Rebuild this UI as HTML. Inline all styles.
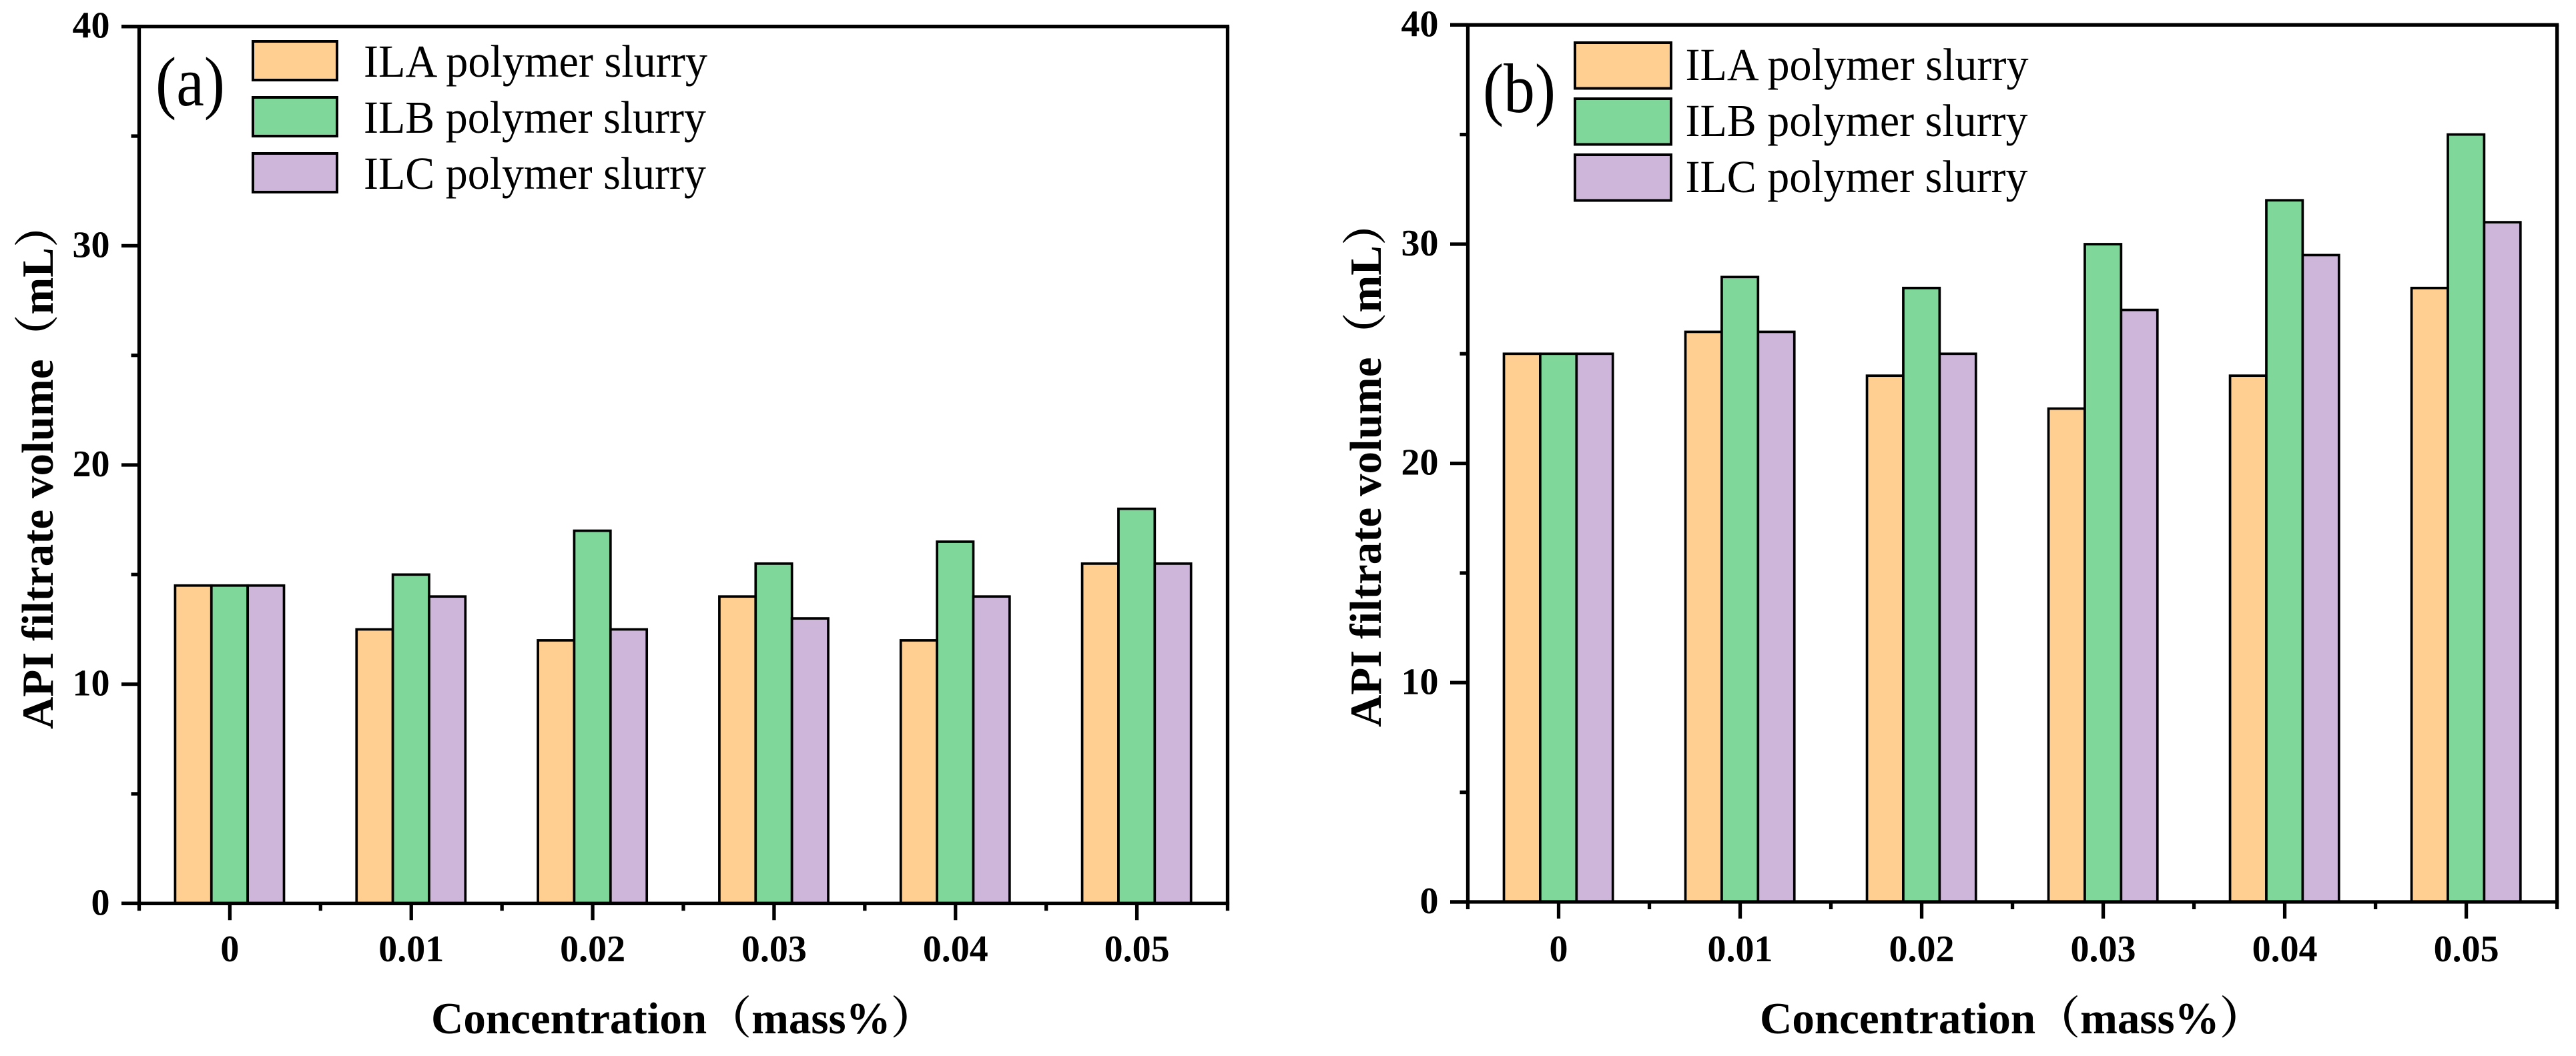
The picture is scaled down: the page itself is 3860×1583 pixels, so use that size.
<!DOCTYPE html>
<html lang="en">
<head>
<meta charset="utf-8">
<title>API filtrate volume charts</title>
<style>
html,body{margin:0;padding:0;background:#fff;}
svg{display:block;}
text{fill:#000;font-family:"Liberation Serif","Noto Serif CJK SC",serif;}
.tick{font-size:56px;font-weight:700;}
.title{font-size:67px;font-weight:700;}
.leg{font-size:69px;}
.panel{font-size:105px;}
</style>
</head>
<body>
<svg id="chart" xmlns="http://www.w3.org/2000/svg" width="3860" height="1583" viewBox="0 0 3860 1583">
  <rect x="0" y="0" width="3860" height="1583" fill="#ffffff"/>
  <g id="panel-a"></g>
  <g id="panel-b"></g>

  <g>
    <text class="panel" x="233" y="158" textLength="104" lengthAdjust="spacingAndGlyphs">(a)</text>
    <g>
      <rect x="379" y="62" width="126" height="58" fill="#fecf90" stroke="#000" stroke-width="4"/>
      <rect x="379" y="146" width="126" height="58" fill="#7fd89a" stroke="#000" stroke-width="4"/>
      <rect x="379" y="230" width="126" height="58" fill="#cdb6da" stroke="#000" stroke-width="4"/>
      <text class="leg" x="545" y="115" textLength="515" lengthAdjust="spacingAndGlyphs">ILA polymer slurry</text>
      <text class="leg" x="545" y="199" textLength="513" lengthAdjust="spacingAndGlyphs">ILB polymer slurry</text>
      <text class="leg" x="545" y="283" textLength="513" lengthAdjust="spacingAndGlyphs">ILC polymer slurry</text>
    </g>
    <text class="title" x="79" y="1093" transform="rotate(-90 79 1093)">API filtrate volume（mL）</text>
    <text class="title" x="646" y="1549">Concentration（mass%）</text>
  </g>

  <g>
    <text class="panel" x="2222" y="168" textLength="109" lengthAdjust="spacingAndGlyphs">(b)</text>
    <g>
      <rect x="2360" y="64" width="144" height="68.5" fill="#fecf90" stroke="#000" stroke-width="4"/>
      <rect x="2360" y="148" width="144" height="68.5" fill="#7fd89a" stroke="#000" stroke-width="4"/>
      <rect x="2360" y="232" width="144" height="68.5" fill="#cdb6da" stroke="#000" stroke-width="4"/>
      <text class="leg" x="2525.5" y="120" textLength="514" lengthAdjust="spacingAndGlyphs">ILA polymer slurry</text>
      <text class="leg" x="2525.5" y="204" textLength="513" lengthAdjust="spacingAndGlyphs">ILB polymer slurry</text>
      <text class="leg" x="2525.5" y="288" textLength="513" lengthAdjust="spacingAndGlyphs">ILC polymer slurry</text>
    </g>
    <text class="title" x="2069" y="1090" transform="rotate(-90 2069 1090)">API filtrate volume（mL）</text>
    <text class="title" x="2637" y="1549">Concentration（mass%）</text>
  </g>
</svg>
<script>
const categories = ['0', '0.01', '0.02', '0.03', '0.04', '0.05'];
const yTickValues = [0, 10, 20, 30, 40];
const yMinorValues = [5, 15, 25, 35];
const seriesNames = ['ila', 'ilb', 'ilc'];

const panelA_ILA = [14.5, 12.5, 12, 14, 12, 15.5];
const panelA_ILB = [14.5, 15, 17, 15.5, 16.5, 18];
const panelA_ILC = [14.5, 14, 12.5, 13, 14, 15.5];

const panelB_ILA = [25, 26, 24, 22.5, 24, 28];
const panelB_ILB = [25, 28.5, 28, 30, 32, 35];
const panelB_ILC = [25, 26, 25, 27, 29.5, 31];

const SVGNS = 'http://www.w3.org/2000/svg';
const seriesColors = ['#fecf90', '#7fd89a', '#cdb6da'];

function line(parent, name, x1, y1, x2, y2, w) {
  const el = document.createElementNS(SVGNS, 'line');
  
  
  el.setAttribute('x1', x1);
  el.setAttribute('y1', y1);
  el.setAttribute('x2', x2);
  el.setAttribute('y2', y2);
  el.setAttribute('stroke', '#000');
  el.setAttribute('stroke-width', w);
  parent.appendChild(el);
}

function label(parent, name, x, y, anchor, str) {
  const el = document.createElementNS(SVGNS, 'text');
  
  
  el.setAttribute('class', 'tick');
  el.setAttribute('x', x);
  el.setAttribute('y', y);
  el.setAttribute('text-anchor', anchor);
  el.textContent = str;
  parent.appendChild(el);
}

function drawPanel(id, left, right, top, bottom, series) {
  const g = document.getElementById(id);
  const yMax = yTickValues[yTickValues.length - 1];
  const step = (right - left) / categories.length;
  const xPos = function (i) { return left + step * (i + 0.5); };
  const yPos = function (v) { return bottom - (bottom - top) * v / yMax; };
  const barW = step * 0.2;

  series.forEach(function (values, s) {
    values.forEach(function (v, i) {
      const r = document.createElementNS(SVGNS, 'rect');
      
      
      r.setAttribute('x', xPos(i) - 82 + s * barW);
      r.setAttribute('y', yPos(v));
      r.setAttribute('width', barW);
      r.setAttribute('height', bottom - yPos(v));
      r.setAttribute('fill', seriesColors[s]);
      r.setAttribute('stroke', '#000');
      r.setAttribute('stroke-width', 3.7);
      g.appendChild(r);
    });
  });

  const tickW = 5.3;
  line(g, 'y-axis-line', left, top, left, bottom, tickW);
  line(g, 'right-axis-line', right, top, right, bottom + 11, tickW);
  line(g, 'top-axis-line', left - 26.5, top, right + 2.6, top, tickW);
  line(g, 'x-axis-line', left - 26.5, bottom, right + 2.6, bottom, tickW);

  yTickValues.forEach(function (v) {
    line(g, 'y-tick-' + v, left - 26.5, yPos(v), left, yPos(v), tickW);
    label(g, 'y-tick-label-' + v, left - 44, yPos(v) + 17, 'end', String(v));
  });
  yMinorValues.forEach(function (v) {
    line(g, 'y-minor-tick-' + v, left - 12, yPos(v), left, yPos(v), tickW);
  });
  categories.forEach(function (c, i) {
    line(g, 'x-tick-' + c, xPos(i), bottom, xPos(i), bottom + 25, tickW);
    label(g, 'x-tick-label-' + c, xPos(i), 1441, 'middle', c);
    line(g, 'x-minor-tick-' + i, xPos(i) - step / 2, bottom, xPos(i) - step / 2, bottom + 11, tickW);
  });
}

drawPanel('panel-a', 208.5, 1839.5, 39.7, 1354.3, [panelA_ILA, panelA_ILB, panelA_ILC]);
drawPanel('panel-b', 2199.5, 3831.6, 37.3, 1352, [panelB_ILA, panelB_ILB, panelB_ILC]);
</script>
</body>
</html>
